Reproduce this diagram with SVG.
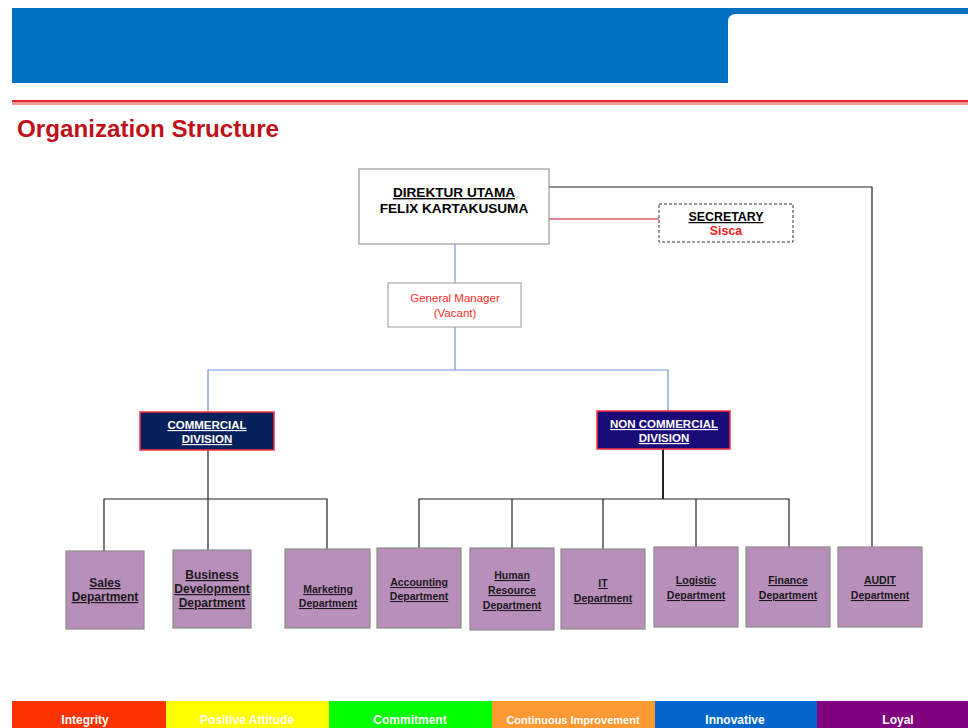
<svg xmlns="http://www.w3.org/2000/svg" width="968" height="728" viewBox="0 0 968 728">
<style>
text{font-family:"Liberation Sans",Arial,sans-serif;text-anchor:middle}
.b{font-weight:bold}
.u{text-decoration:underline}
.dept rect{fill:#b88fba;stroke:#8c8c8c;stroke-width:1.2}
.dept text{font-size:10.5px;font-weight:bold;fill:#1a1a1a;text-decoration:underline}
.bar text{font-size:12px;font-weight:bold;fill:#fff}
.blk{stroke:#222;stroke-width:1.2;fill:none}
.blu{stroke:#6f93d8;stroke-width:1.2;fill:none}
</style>
<rect width="968" height="728" fill="#fff"/>
<g id="header">
<rect x="12" y="8" width="956" height="75" fill="#0070c0"/>
<path d="M728 83 V22 Q728 14 736 14 H968 V83 Z" fill="#fff"/>
<rect x="12" y="100" width="956" height="2.5" fill="#e0282e"/>
<rect x="12" y="102.5" width="956" height="2.5" fill="#f59a9a"/>
<text x="17" y="137" style="text-anchor:start;font-size:23.5px;font-weight:bold;fill:#c0101a" textLength="262" lengthAdjust="spacingAndGlyphs">Organization Structure</text>
</g>
<g id="connectors">
<polyline class="blk" points="549,187 872,187 872,547" stroke="#555"/>
<line x1="549" y1="219" x2="659" y2="219" stroke="#c0101a" stroke-width="1"/>
<line class="blu" x1="455" y1="244" x2="455" y2="283"/>
<polyline class="blu" points="455,327 455,370"/>
<polyline class="blu" points="208,412 208,370 668,370 668,411"/>
<line class="blk" x1="208" y1="450" x2="208" y2="499"/>
<polyline class="blk" points="104,551 104,499 327,499 327,549"/>
<line class="blk" x1="208" y1="499" x2="208" y2="550"/>
<line x1="663" y1="449" x2="663" y2="499" stroke="#222" stroke-width="2"/>
<polyline class="blk" points="419,548 419,499 789,499 789,547"/>
<line class="blk" x1="512" y1="499" x2="512" y2="548"/>
<line class="blk" x1="603" y1="499" x2="603" y2="549"/>
<line class="blk" x1="696" y1="499" x2="696" y2="547"/>
</g>
<g id="direktur">
<rect x="359" y="169" width="190" height="75" fill="#fff" stroke="#999" stroke-width="1.2"/>
<text x="454" y="197" class="b u" font-size="13.6">DIREKTUR UTAMA</text>
<text x="454" y="213" class="b" font-size="13.6">FELIX KARTAKUSUMA</text>
</g>
<g id="secretary">
<rect x="659" y="204" width="134" height="38" fill="#fff" stroke="#333" stroke-width="1" stroke-dasharray="3,2"/>
<text x="726" y="221" class="b u" font-size="12.4">SECRETARY</text>
<text x="726" y="235" class="b" font-size="12.4" fill="#ff2020">Sisca</text>
</g>
<g id="gm">
<rect x="388" y="283" width="133" height="44" fill="#fff" stroke="#aaa" stroke-width="1.2"/>
<text x="455" y="302" font-size="11.5" fill="#ff2a2a">General Manager</text>
<text x="455" y="317" font-size="11.5" fill="#ff2a2a">(Vacant)</text>
</g>
<g id="commercial">
<rect x="140" y="412" width="134" height="38" fill="#06205c" stroke="#ff3040" stroke-width="1.5"/>
<text x="207" y="429" class="b u" font-size="11.5" fill="#fff">COMMERCIAL</text>
<text x="207" y="443" class="b u" font-size="11.5" fill="#fff">DIVISION</text>
</g>
<g id="noncommercial">
<rect x="597" y="411" width="133" height="38" fill="#1a0a78" stroke="#ff3040" stroke-width="1.5"/>
<text x="664" y="428" class="b u" font-size="11.5" fill="#fff">NON COMMERCIAL</text>
<text x="664" y="442" class="b u" font-size="11.5" fill="#fff">DIVISION</text>
</g>
<g id="sales" class="dept">
<rect x="66" y="551" width="78" height="78"/>
<text x="105" y="587" style="font-size:12px">Sales </text>
<text x="105" y="601" style="font-size:12px">Department</text>
</g>
<g id="business" class="dept">
<rect x="173" y="550" width="78" height="78"/>
<text x="212" y="579" style="font-size:12px">Business </text>
<text x="212" y="593" style="font-size:12px">Development</text>
<text x="212" y="607" style="font-size:12px">Department</text>
</g>
<g id="marketing" class="dept">
<rect x="285" y="549" width="85" height="79"/>
<text x="328" y="593">Marketing</text>
<text x="328" y="607">Department</text>
</g>
<g id="accounting" class="dept">
<rect x="377" y="548" width="84" height="80"/>
<text x="419" y="586">Accounting</text>
<text x="419" y="600">Department</text>
</g>
<g id="hr" class="dept">
<rect x="470" y="548" width="84" height="82"/>
<text x="512" y="579">Human</text>
<text x="512" y="594">Resource</text>
<text x="512" y="609">Department</text>
</g>
<g id="it" class="dept">
<rect x="561" y="549" width="84" height="80"/>
<text x="603" y="587">IT</text>
<text x="603" y="602">Department</text>
</g>
<g id="logistic" class="dept">
<rect x="654" y="547" width="84" height="80"/>
<text x="696" y="584">Logistic</text>
<text x="696" y="599">Department</text>
</g>
<g id="finance" class="dept">
<rect x="746" y="547" width="84" height="80"/>
<text x="788" y="584">Finance</text>
<text x="788" y="599">Department</text>
</g>
<g id="audit" class="dept">
<rect x="838" y="547" width="84" height="80"/>
<text x="880" y="584">AUDIT</text>
<text x="880" y="599">Department</text>
</g>
<g id="values" class="bar">
<rect x="12" y="701" width="154" height="27" fill="#ff3300"/>
<rect x="166" y="701" width="163" height="27" fill="#ffff00"/>
<rect x="329" y="701" width="163" height="27" fill="#00ff00"/>
<rect x="492" y="701" width="163" height="27" fill="#ff9933"/>
<rect x="655" y="701" width="162" height="27" fill="#0066cc"/>
<rect x="817" y="701" width="151" height="27" fill="#800080"/>
<text x="85" y="724">Integrity</text>
<text x="247" y="724">Positive Attitude</text>
<text x="410" y="724">Commitment</text>
<text x="573" y="724" style="font-size:11px">Continuous Improvement</text>
<text x="735" y="724">Innovative</text>
<text x="898" y="724">Loyal</text>
</g>
</svg>
